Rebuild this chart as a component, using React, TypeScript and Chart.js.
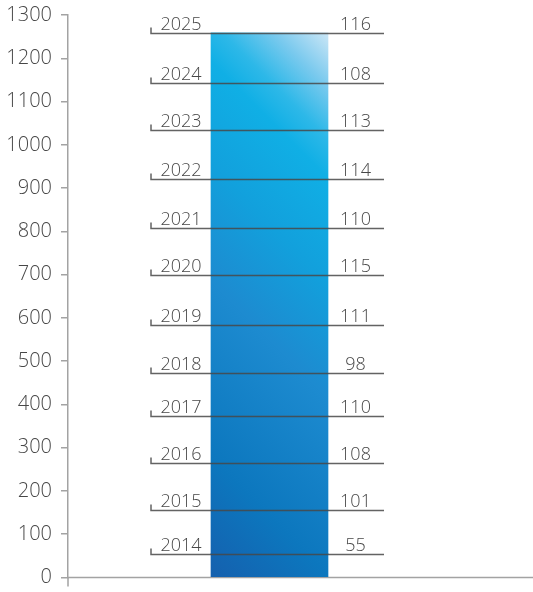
import React, { useEffect, useRef } from "react";
import { Chart, registerables } from "chart.js";

Chart.register(...registerables);

const years = ["2014", "2015", "2016", "2017", "2018", "2019", "2020", "2021", "2022", "2023", "2024", "2025"];
const values = [55, 101, 108, 110, 98, 111, 115, 110, 114, 113, 108, 116];
const yMin = 0;
const yMax = 1300;
const yStep = 100;

const FONT = '"Open Sans", "DejaVu Sans", sans-serif';
const TEXT = "#474747";
const AXIS = "#a3a3a3";
const BAR_W = 117;

const gradientFill = (c: any) => {
  const chart = c.chart;
  const ca = chart.chartArea;
  if (!ca) return "#1a8fd3";
  const cx = chart.scales.x.getPixelForValue(0);
  const x0 = cx - BAR_W / 2;
  const total = values.reduce((a, b) => a + b, 0);
  const top = chart.scales.y.getPixelForValue(total);
  const h = ca.bottom - top;
  const s = (BAR_W + h) / 2;
  const g = chart.ctx.createLinearGradient(x0, ca.bottom, x0 + s, ca.bottom - s);
  g.addColorStop(0, "#1560ae");
  g.addColorStop(0.18, "#0c77be");
  g.addColorStop(0.45, "#1d8bd0");
  g.addColorStop(0.62, "#12a0dc");
  g.addColorStop(0.78, "#10afe5");
  g.addColorStop(0.84, "#2db8e8");
  g.addColorStop(0.92, "#7ccaee");
  g.addColorStop(1, "#cbe6f6");
  return g;
};

const annotatePlugin = {
  id: "annotate",
  beforeDatasetsDraw(chart: any) {
    const { ctx, chartArea } = chart;
    ctx.save();
    ctx.strokeStyle = AXIS;
    ctx.lineWidth = 1.5;
    ctx.beginPath();
    ctx.moveTo(chartArea.left, chartArea.bottom);
    ctx.lineTo(chart.width, chartArea.bottom);
    ctx.moveTo(chartArea.left, chartArea.bottom);
    ctx.lineTo(chartArea.left, chartArea.bottom + 9);
    ctx.stroke();
    ctx.restore();
  },
  afterDatasetsDraw(chart: any) {
    const { ctx } = chart;
    ctx.save();
    chart.data.datasets.forEach((ds: any, i: number) => {
      const bar = chart.getDatasetMeta(i).data[0];
      if (!bar) return;
      const y = Math.round(bar.y) + 0.5;
      const left = bar.x - bar.width / 2 - 60;
      const right = bar.x + bar.width / 2 + 56;
      ctx.strokeStyle = "rgba(72,72,72,0.85)";
      ctx.lineWidth = 1.5;
      ctx.beginPath();
      ctx.moveTo(left, y - 6);
      ctx.lineTo(left, y);
      ctx.lineTo(right, y);
      ctx.stroke();
      ctx.fillStyle = TEXT;
      ctx.font = `300 18px ${FONT}`;
      ctx.textBaseline = "alphabetic";
      ctx.textAlign = "left";
      ctx.fillText(ds.label, left + 9.5, y - 4);
      ctx.textAlign = "center";
      ctx.fillText(String(ds.data[0]), right - 28.5, y - 4);
    });
    ctx.restore();
  },
};

export default function App() {
  const ref = useRef<HTMLCanvasElement>(null);
  useEffect(() => {
    if (!ref.current) return;
    const chart = new Chart(ref.current, {
      type: "bar",
      data: {
        labels: [""],
        datasets: years.map((yr, i) => ({
          label: yr,
          data: [values[i]],
          backgroundColor: gradientFill,
          borderWidth: 0,
          barThickness: BAR_W,
        })),
      },
      options: {
        animation: false,
        responsive: false,
        layout: { padding: { top: 15, bottom: 14.5, left: 0, right: 62 } },
        plugins: { legend: { display: false }, tooltip: { enabled: false } },
        scales: {
          x: { stacked: true, display: false },
          y: {
            stacked: true,
            min: yMin,
            max: yMax,
            ticks: {
              stepSize: yStep,
              color: TEXT,
              padding: 9,
              font: { family: FONT, size: 20, weight: "300" as any },
              callback: (v: any) => String(v),
            },
            grid: { drawOnChartArea: false, tickLength: 7, color: AXIS, lineWidth: 1.5 },
            border: { display: true, color: AXIS, width: 1.5 },
            afterFit(scale: any) {
              scale.width = 68;
              scale.paddingTop = 0;
              scale.paddingBottom = 0;
            },
          },
        },
      },
      plugins: [annotatePlugin],
    });
    return () => chart.destroy();
  }, []);
  return (
    <div style={{ position: "fixed", left: 0, top: 0, width: 533, height: 592, background: "#fff" }}>
      <canvas ref={ref} width={533} height={592} style={{ display: "block" }} />
    </div>
  );
}
